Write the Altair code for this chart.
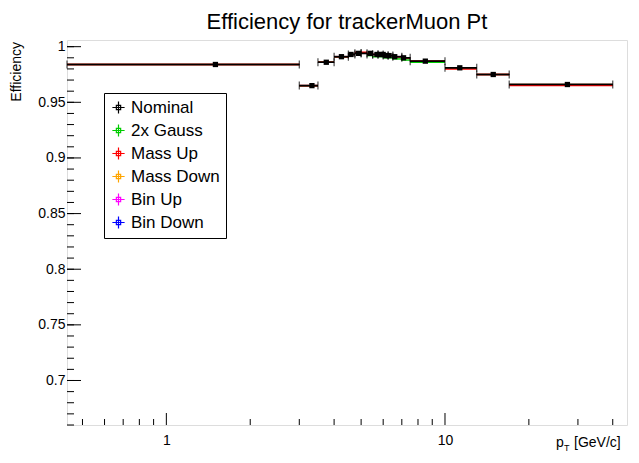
import altair as alt
import pandas as pd

lo = [0.44, 3.0, 3.5, 4.0, 4.5, 4.75, 5.0, 5.25, 5.5, 5.75, 6.0, 6.25, 6.5, 7.0, 7.5, 10.0, 13.0, 17.0]
hi = [3.0, 3.5, 4.0, 4.5, 4.75, 5.0, 5.25, 5.5, 5.75, 6.0, 6.25, 6.5, 7.0, 7.5, 10.0, 13.0, 17.0, 40.0]
ctr = [1.5, 3.33, 3.75, 4.25, 4.6, 4.9, 5.4, 5.7, 5.85, 6.0, 6.15, 6.3, 6.6, 7.1, 8.5, 11.3, 14.9, 27.5]
nominal = [0.984, 0.965, 0.986, 0.991, 0.993, 0.994, 0.994, 0.993, 0.993, 0.993, 0.992, 0.992, 0.991, 0.990, 0.987, 0.981, 0.975, 0.966]
gauss   = [0.984, 0.965, 0.986, 0.991, 0.993, 0.994, 0.994, 0.992, 0.991, 0.991, 0.990, 0.990, 0.989, 0.988, 0.986, 0.981, 0.975, 0.966]
massup  = [0.984, 0.965, 0.986, 0.991, 0.993, 0.995, 0.995, 0.994, 0.993, 0.993, 0.992, 0.992, 0.991, 0.990, 0.987, 0.980, 0.975, 0.965]
massdn  = [0.984, 0.965, 0.986, 0.991, 0.993, 0.994, 0.994, 0.993, 0.993, 0.993, 0.992, 0.992, 0.991, 0.990, 0.987, 0.981, 0.975, 0.966]
binup   = [0.984, 0.965, 0.986, 0.991, 0.993, 0.994, 0.994, 0.993, 0.993, 0.993, 0.992, 0.992, 0.991, 0.990, 0.987, 0.981, 0.975, 0.966]
bindn   = nominal
series = ["Nominal", "2x Gauss", "Mass Up", "Mass Down", "Bin Up", "Bin Down"]
colors = ["black", "#00cc00", "red", "orange", "magenta", "blue"]
vals = [nominal, gauss, massup, massdn, binup, bindn]
draw_order = ["Bin Down", "Bin Up", "2x Gauss", "Mass Down", "Mass Up", "Nominal"]

rows = []
for s, v in zip(series, vals):
    for i in range(len(lo)):
        rows.append({"s": s, "lo": lo[i], "hi": hi[i], "x": ctr[i], "y": v[i],
                     "o": draw_order.index(s)})
df = pd.DataFrame(rows)
nomdf = df[df.s == "Nominal"]

ymaj = [0.7, 0.75, 0.8, 0.85, 0.9, 0.95, 1.0]
ymin = [round(0.66 + 0.01 * i, 2) for i in range(35)]
xmaj = [1, 10]
xmin = [0.5, 0.6, 0.7, 0.8, 0.9, 2, 3, 4, 5, 6, 7, 8, 9, 20, 30, 40]

W, H = 560, 385
xs = alt.Scale(type="log", domain=[0.44, 45], nice=False)
ys = alt.Scale(domain=[0.66, 1.006], nice=False, zero=False)
F = "Liberation Sans"

cscale = alt.Scale(domain=series, range=colors)
legend = alt.Legend(title=None, orient="none", legendX=37, legendY=53, fillColor="white",
                    strokeColor="black", padding=6, labelFontSize=17, labelFont=F,
                    symbolType="M-1,0H1M0,-1V1M-0.35,-0.35H0.35V0.35H-0.35Z",
                    symbolSize=150, symbolStrokeWidth=1.2, rowPadding=4, labelLimit=200)

base = alt.Chart(df)
bars = base.mark_rule(strokeWidth=1.5).encode(
    x=alt.X("lo:Q", scale=xs, axis=alt.Axis(values=xmaj, ticks=False, grid=False, title=None,
                                            labelFont=F, labelFontSize=14, labelPadding=8, domain=False)),
    x2="hi:Q",
    y=alt.Y("y:Q", scale=ys, axis=alt.Axis(values=ymaj, ticks=False, grid=False, title=None,
                                           labelFont=F, labelFontSize=14, domain=False,
                                           labelExpr="datum.value==1?'1':format(datum.value,'.2~f')")),
    color=alt.Color("s:N", scale=cscale, legend=legend),
    order="o:Q")
nb = alt.Chart(nomdf)
caps1 = nb.mark_tick(size=8, thickness=1.2, orient="vertical", color="black").encode(
    x=alt.X("lo:Q", scale=xs), y=alt.Y("y:Q", scale=ys))
caps2 = nb.mark_tick(size=8, thickness=1.2, orient="vertical", color="black").encode(
    x=alt.X("hi:Q", scale=xs), y=alt.Y("y:Q", scale=ys))
nline = nb.mark_rule(strokeWidth=1.2, color="black").encode(
    x=alt.X("lo:Q", scale=xs), x2="hi:Q", y=alt.Y("y:Q", scale=ys))
pts = nb.mark_square(size=28, opacity=1, color="black").encode(
    x=alt.X("x:Q", scale=xs), y=alt.Y("y:Q", scale=ys))

def tickdf(v):
    return pd.DataFrame({"v": v})

yM = alt.Chart(tickdf(ymaj)).mark_rule(color="black").encode(
    y=alt.Y("v:Q", scale=ys), x=alt.value(0), x2=alt.value(14))
ym = alt.Chart(tickdf(ymin)).mark_rule(color="black").encode(
    y=alt.Y("v:Q", scale=ys), x=alt.value(0), x2=alt.value(7))
xM = alt.Chart(tickdf(xmaj)).mark_rule(color="black").encode(
    x=alt.X("v:Q", scale=xs), y=alt.value(H), y2=alt.value(H - 12))
xm = alt.Chart(tickdf(xmin)).mark_rule(color="black").encode(
    x=alt.X("v:Q", scale=xs), y=alt.value(H), y2=alt.value(H - 6))

tdf = pd.DataFrame({"t": ["Efficiency"]})
ytitle = alt.Chart(tdf).mark_text(angle=270, align="right", baseline="middle", font=F, fontSize=14).encode(
    text="t:N", x=alt.value(-50), y=alt.value(2))
xt1 = alt.Chart(pd.DataFrame({"t": ["p"]})).mark_text(align="left", baseline="alphabetic", font=F, fontSize=14).encode(
    text="t:N", x=alt.value(489), y=alt.value(407))
xt2 = alt.Chart(pd.DataFrame({"t": ["T"]})).mark_text(align="left", baseline="alphabetic", font=F, fontSize=9).encode(
    text="t:N", x=alt.value(497), y=alt.value(411))
xt3 = alt.Chart(pd.DataFrame({"t": ["[GeV/c]"]})).mark_text(align="left", baseline="alphabetic", font=F, fontSize=14).encode(
    text="t:N", x=alt.value(507), y=alt.value(407))

chart = alt.layer(bars, nline, caps1, caps2, pts, yM, ym, xM, xm, ytitle, xt1, xt2, xt3).properties(
    width=W, height=H,
    title=alt.Title("Efficiency for trackerMuon Pt", font=F, fontSize=22, fontWeight="normal",
                    anchor="middle", offset=6),
    autosize=alt.AutoSizeParams(type="none"),
    padding={"left": 59, "top": 32, "right": 4, "bottom": 30},
).configure_view(stroke="black", strokeWidth=1.2).configure(background="white")

chart.save("out.html", embed_options={"renderer": "svg", "actions": False})
